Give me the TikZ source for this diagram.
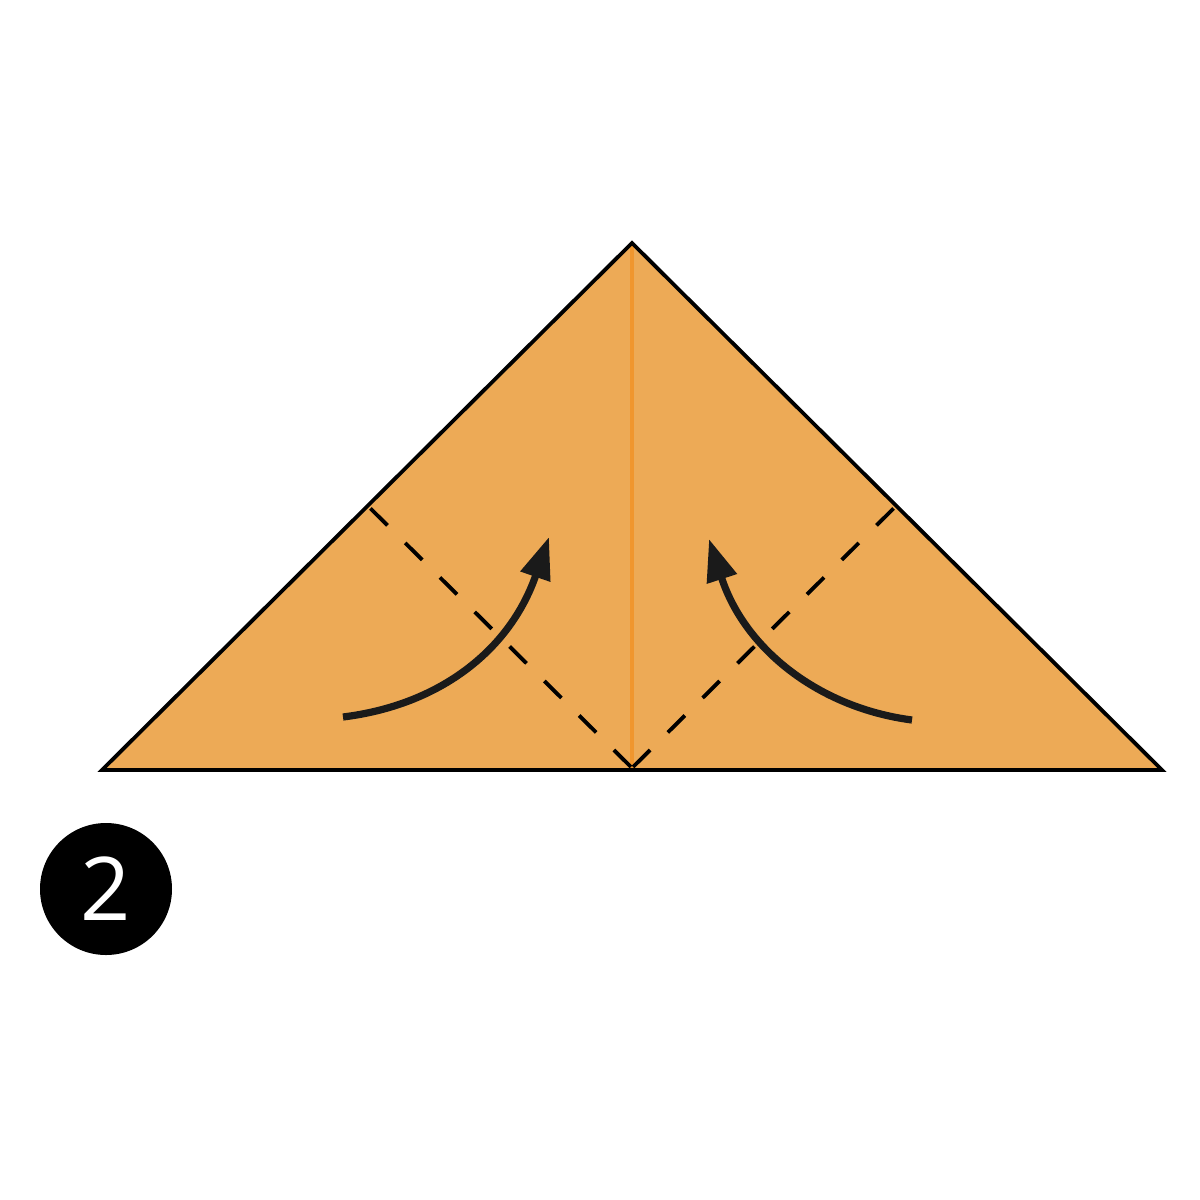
\documentclass[tikz,border=0pt]{standalone}
\usepackage{fontspec}
\setmainfont{Open Sans}
\usetikzlibrary{arrows.meta}
\definecolor{paper}{HTML}{EDAA56}
\definecolor{midline}{HTML}{F0962E}
\definecolor{ink}{HTML}{1A1A1A}
\tikzset{
  edge/.style={draw=black,line width=1.9pt,line join=miter},
  fold/.style={draw=black,line width=1.9pt,dash pattern=on 12pt off 12.5pt},
  turn/.style={draw=ink,line width=3.6pt,-{Triangle[length=21pt,width=15pt]}},
  badge/.style={circle,fill=black,minimum size=66pt,inner sep=0pt,text=white,font=\fontsize{44}{44}\selectfont}
}
\begin{document}
\begin{tikzpicture}[x=0.5pt,y=-0.5pt]
\useasboundingbox (0,0) rectangle (1200,1200);
\coordinate (apex) at (632,243);
\coordinate (bl) at (102,770);
\coordinate (br) at (1162,770);
\coordinate (bm) at (632,768);
\coordinate (lp) at (369,507);
\coordinate (rp) at (895,507);
\fill[paper] (apex) -- (br) -- (bl) -- cycle;
\draw[midline,line width=2.2pt] (apex) -- (632,770);
\draw[fold,dash phase=-1pt] (lp) -- (bm);
\draw[fold,dash phase=-1pt] (rp) -- (bm);
\draw[edge] (apex) -- (br) -- (bl) -- cycle;
\coordinate (la) at (343,717);
\coordinate (lt) at (549,537);
\coordinate (ra) at (912,720);
\coordinate (rt) at (709,539);
\draw[turn] (la) .. controls (440,705) and (510,650) .. (lt);
\draw[turn] (ra) .. controls (820,708) and (745,650) .. (rt);
\node[badge] (two) at (106,889) {2};
\end{tikzpicture}
\end{document}
